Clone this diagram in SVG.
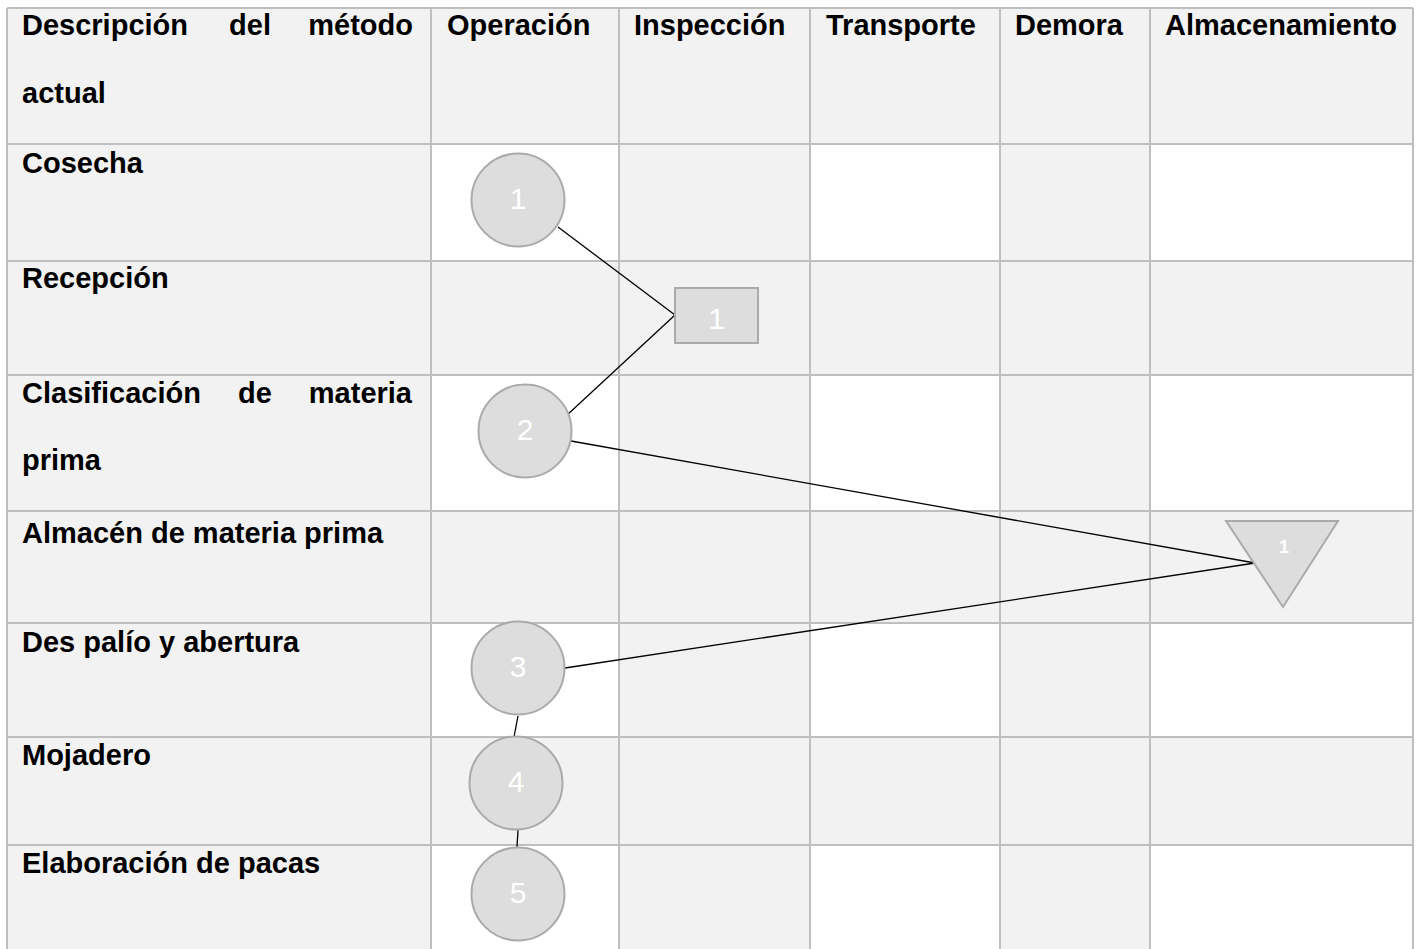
<svg xmlns="http://www.w3.org/2000/svg" width="1420" height="949" viewBox="0 0 1420 949">
<style>
.g{fill:#f2f2f2}
.w{fill:#ffffff}
.gl{stroke:#bfbfbf;stroke-width:2;fill:none}
.t{font-family:"Liberation Sans",Arial,sans-serif;font-weight:bold;font-size:29px;fill:#000}
.n{font-family:"Liberation Sans",Arial,sans-serif;font-size:30px;fill:#ffffff;text-anchor:middle}
.shape{fill:#dddddd;stroke:#aaaaaa;stroke-width:2}
.c{stroke:#000;stroke-width:1.3;fill:none}
</style>
<rect width="1420" height="949" fill="#ffffff"/>
<g id="table">
<rect class="g" x="7" y="8" width="1406" height="941"/>
<g class="w">
<rect x="431" y="144" width="188" height="117"/><rect x="810" y="144" width="190" height="117"/><rect x="1150" y="144" width="263" height="117"/>
<rect x="431" y="375" width="188" height="136"/><rect x="810" y="375" width="190" height="136"/><rect x="1150" y="375" width="263" height="136"/>
<rect x="431" y="623" width="188" height="114"/><rect x="810" y="623" width="190" height="114"/><rect x="1150" y="623" width="263" height="114"/>
<rect x="431" y="845" width="188" height="104"/><rect x="810" y="845" width="190" height="104"/><rect x="1150" y="845" width="263" height="104"/>
</g>
<path class="gl" d="M7 8H1413M7 144H1413M7 261H1413M7 375H1413M7 511H1413M7 623H1413M7 737H1413M7 845H1413M7 8V949M431 8V949M619 8V949M810 8V949M1000 8V949M1150 8V949M1413 8V949"/>
<text class="t" x="22" y="35">Descripción</text>
<text class="t" x="250" y="35" text-anchor="middle">del</text>
<text class="t" x="413" y="35" text-anchor="end">método</text>
<text class="t" x="22" y="103">actual</text>
<text class="t" x="447" y="35">Operación</text>
<text class="t" x="634" y="35">Inspección</text>
<text class="t" x="826" y="35">Transporte</text>
<text class="t" x="1015" y="35">Demora</text>
<text class="t" x="1165" y="35">Almacenamiento</text>
<text class="t" x="22" y="173">Cosecha</text>
<text class="t" x="22" y="288">Recepción</text>
<text class="t" x="22" y="403">Clasificación</text>
<text class="t" x="255" y="403" text-anchor="middle">de</text>
<text class="t" x="412" y="403" text-anchor="end">materia</text>
<text class="t" x="22" y="470">prima</text>
<text class="t" x="22" y="543">Almacén de materia prima</text>
<text class="t" x="22" y="652">Des palío y abertura</text>
<text class="t" x="22" y="765">Mojadero</text>
<text class="t" x="22" y="873">Elaboración de pacas</text>
</g>
<g id="connectors">
<line class="c" x1="558" y1="227" x2="675" y2="315"/>
<line class="c" x1="675" y1="315" x2="566" y2="416"/>
<line class="c" x1="571" y1="441" x2="1255" y2="563"/>
<line class="c" x1="565" y1="668" x2="1255" y2="563"/>
<line class="c" x1="518" y1="716" x2="514" y2="737"/>
<line class="c" x1="518" y1="830" x2="517" y2="847"/>
</g>
<g id="op1"><circle class="shape" cx="518" cy="200" r="46.5"/><text class="n" x="518" y="209">1</text></g>
<g id="insp1"><rect class="shape" x="675" y="288" width="83" height="55"/><text class="n" x="716.5" y="329">1</text></g>
<g id="op2"><circle class="shape" cx="525" cy="431" r="46.5"/><text class="n" x="525" y="440">2</text></g>
<g id="alm1"><polygon class="shape" points="1226,521 1338,521 1283,607"/><text class="n" x="1284" y="553" style="font-size:18px;font-weight:bold">1</text></g>
<g id="op3"><circle class="shape" cx="518" cy="668" r="46.5"/><text class="n" x="518" y="677">3</text></g>
<g id="op4"><circle class="shape" cx="516" cy="783" r="46.5"/><text class="n" x="516" y="792">4</text></g>
<g id="op5"><circle class="shape" cx="518" cy="894" r="46.5"/><text class="n" x="518" y="903">5</text></g>
</svg>
